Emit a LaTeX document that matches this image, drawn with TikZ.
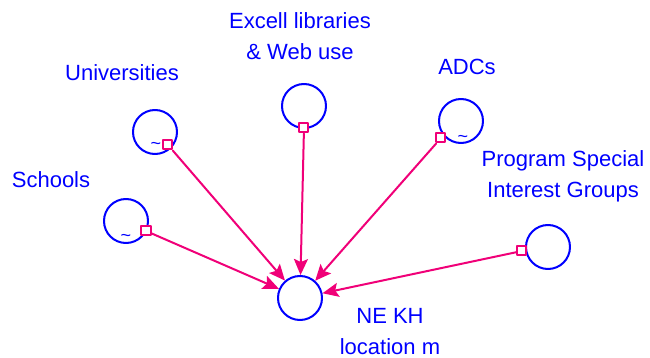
\documentclass[tikz,border=0pt]{standalone}
\usepackage{fontspec}
\setmainfont{Liberation Sans}
\usetikzlibrary{arrows.meta}
\definecolor{kbblue}{RGB}{0,0,255}
\definecolor{kbpink}{RGB}{240,0,120}

\begin{document}
\begin{tikzpicture}[line cap=round,line join=round,>={Stealth[length=8pt,width=7pt,inset=1.5pt]},x=0.5pt,y=-0.5pt,
    var/.style={circle, draw=kbblue, line width=1pt, minimum size=22pt, inner sep=0pt},
    port/.style={rectangle, draw=kbpink, line width=1pt, fill=white, minimum size=4.5pt, inner sep=0pt},
    lbl/.style={text=kbblue, font=\fontsize{11}{15.5}\selectfont, align=center},
    wave/.style={text=kbblue, font=\fontsize{9}{9}\selectfont, inner sep=0pt},
    link/.style={->, draw=kbpink, fill=kbpink, line width=1pt}]
                        \useasboundingbox (0,0) rectangle (650,358);

                        \node[lbl] (lschools) at (51,180) {Schools};
                        \node[lbl] (luni) at (122,73) {Universities};
                        \node[lbl] (lexcell) at (300,36) {Excell libraries\\\& Web use};
                        \node[lbl] (ladc) at (467,67) {ADCs};
                        \node[lbl] (lprog) at (563,176) {Program Special\\Interest Groups};
                        \node[lbl] (lnekh) at (390,332) {NE KH\\location m};

                        \node[var] (schools) at (126,221) {};
                        \node[var] (uni) at (155,132) {};
                        \node[var] (excell) at (304,106) {};
                        \node[var] (adc) at (461,121) {};
                        \node[var] (prog) at (548,247) {};
                        \node[var] (nekh) at (300,298) {};

                        \node[wave] at (126,238) {\textasciitilde};
                        \node[wave] at (156,146) {\textasciitilde};
                        \node[wave] at (463,139) {\textasciitilde};

                        \node[port] (pschools) at (146,231) {};
                        \node[port] (puni) at (168,145) {};
                        \node[port] (pexcell) at (304,128) {};
                        \node[port] (padc) at (441,138) {};
                        \node[port] (pprog) at (522,251) {};

                        \draw [link] (pschools) -- (nekh);
                        \draw [link] (puni) -- (nekh);
                        \draw [link] (pexcell) -- (nekh);
                        \draw [link] (padc) -- (nekh);
                        \draw [link] (pprog) -- (nekh);
                    \end{tikzpicture}
\end{document}
